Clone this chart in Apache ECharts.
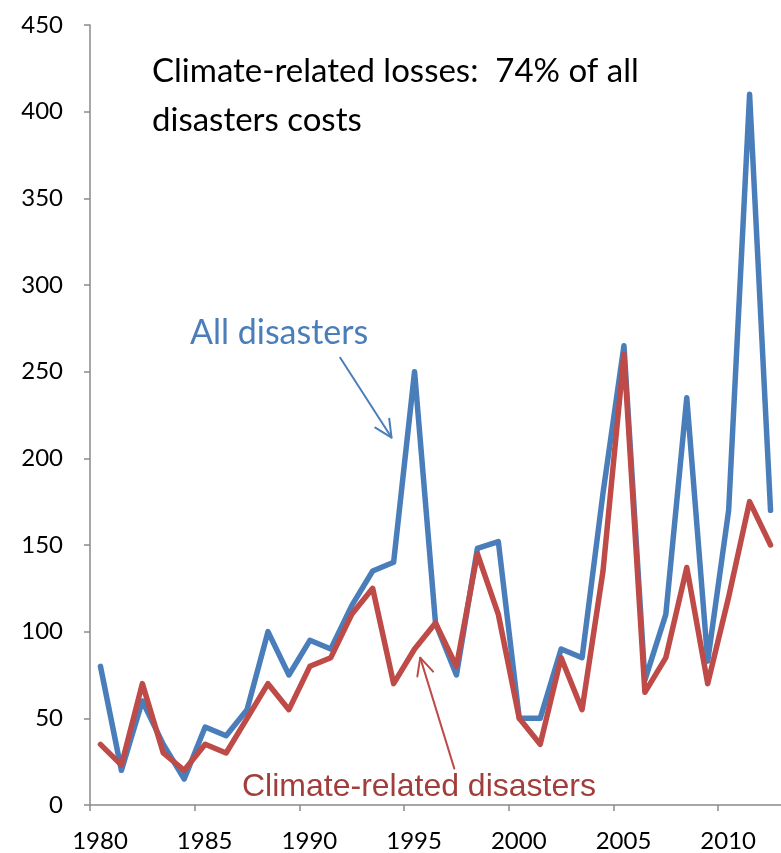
<!DOCTYPE html>
<html>
<head>
<meta charset="utf-8">
<script src="https://cdn.jsdelivr.net/npm/echarts@6/dist/echarts.min.js"></script>
<style>
  html, body { margin: 0; padding: 0; background: #fff; }
  #chart { width: 781px; height: 853px; }
</style>
</head>
<body>
<div id="chart"></div>
<script>
// Disaster losses per year (billions), 1980-2012
const years = [1980, 1981, 1982, 1983, 1984, 1985, 1986, 1987, 1988, 1989,
               1990, 1991, 1992, 1993, 1994, 1995, 1996, 1997, 1998, 1999,
               2000, 2001, 2002, 2003, 2004, 2005, 2006, 2007, 2008, 2009,
               2010, 2011, 2012];
const allDisasters = [80, 20, 60, 35, 15, 45, 40, 55, 100, 75,
                      95, 90, 115, 135, 140, 250, 105, 75, 148, 152,
                      50, 50, 90, 85, 180, 265, 72, 110, 235, 83,
                      170, 410, 170];
const climateRelated = [35, 23, 70, 30, 20, 35, 30, 50, 70, 55,
                        80, 85, 110, 125, 70, 90, 105, 80, 145, 110,
                        50, 35, 85, 55, 135, 260, 65, 85, 137, 70,
                        120, 175, 150];
const yTicks = { min: 0, max: 450, step: 50 };
const xTicks = { min: 1980, max: 2013, step: 5 };

const BLUE = '#4a7ebb';
const RED = '#be4b48';
const LABEL_FONT = 'Lato, "Open Sans", sans-serif';

// each year's value is plotted at the middle of its year
const toPoints = vals => years.map((y, i) => [y + 0.5, vals[i]]);

const chart = echarts.init(document.getElementById('chart'), null, { renderer: 'canvas' });

const axisCommon = {
  axisLine: { show: true, lineStyle: { color: '#8a8a8a', width: 1.5 } },
  axisTick: { show: true, inside: false, length: 6, lineStyle: { color: '#8a8a8a', width: 1.5 } },
  splitLine: { show: false },
  axisLabel: { color: '#000', fontFamily: LABEL_FONT, fontSize: 24 }
};

chart.setOption({
  animation: false,
  backgroundColor: '#fff',
  grid: { left: 90, top: 25, width: 697, height: 780, containLabel: false },
  xAxis: Object.assign({}, axisCommon, {
    type: 'value',
    min: xTicks.min, max: xTicks.max, interval: xTicks.step,
    axisLabel: Object.assign({}, axisCommon.axisLabel, {
      margin: 24,
      padding: [0, 0, 0, 20],
      showMaxLabel: false,
      formatter: v => (v % 5 === 0 ? String(v) : '')
    })
  }),
  yAxis: Object.assign({}, axisCommon, {
    type: 'value',
    min: yTicks.min, max: yTicks.max, interval: yTicks.step,
    axisLabel: Object.assign({}, axisCommon.axisLabel, { margin: 27 })
  }),
  series: [
    {
      name: 'All disasters', type: 'line', data: toPoints(allDisasters),
      showSymbol: false, symbol: 'none',
      lineStyle: { color: BLUE, width: 5.5, cap: 'round', join: 'round' }
    },
    {
      name: 'Climate-related disasters', type: 'line', data: toPoints(climateRelated),
      showSymbol: false, symbol: 'none',
      lineStyle: { color: RED, width: 5.5, cap: 'round', join: 'round' }
    }
  ]
});

// Annotation arrows, anchored in data space: [tail, head]
const arrows = [
  { from: [1991.95, 258], to: [1994.4, 212], color: BLUE },
  { from: [1997.4, 21], to: [1995.77, 85], color: RED }
];

function arrowGraphics(a) {
  const p0 = chart.convertToPixel({ gridIndex: 0 }, a.from);
  const p1 = chart.convertToPixel({ gridIndex: 0 }, a.to);
  const ang = Math.atan2(p0[1] - p1[1], p0[0] - p1[0]);
  const len = 19, spread = 0.45;
  const wing = s => [p1[0] + len * Math.cos(ang + s), p1[1] + len * Math.sin(ang + s)];
  const style = { stroke: a.color, lineWidth: 2, fill: null, lineCap: 'round', lineJoin: 'round' };
  return [
    { type: 'line', shape: { x1: p0[0], y1: p0[1], x2: p1[0], y2: p1[1] }, style, z: 10 },
    { type: 'polyline', shape: { points: [wing(spread), p1, wing(-spread)] }, style, z: 10 }
  ];
}

const graphics = [];
arrows.forEach(a => graphics.push(...arrowGraphics(a)));

graphics.push(
  {
    type: 'text', left: 152, top: 47, z: 20,
    style: {
      text: 'Climate-related losses:  74% of all\ndisasters costs',
      fill: '#000', font: '33px ' + LABEL_FONT, lineHeight: 49
    }
  },
  {
    type: 'text', left: 190, top: 316, z: 20,
    style: { text: 'All disasters', fill: BLUE, font: '34px ' + LABEL_FONT }
  },
  {
    type: 'text', left: 242, top: 771, z: 20,
    style: { text: 'Climate-related disasters', fill: '#a13e3b', font: '32px "Liberation Sans", Arial, sans-serif' }
  }
);

chart.setOption({ graphic: graphics });
</script>
</body>
</html>
